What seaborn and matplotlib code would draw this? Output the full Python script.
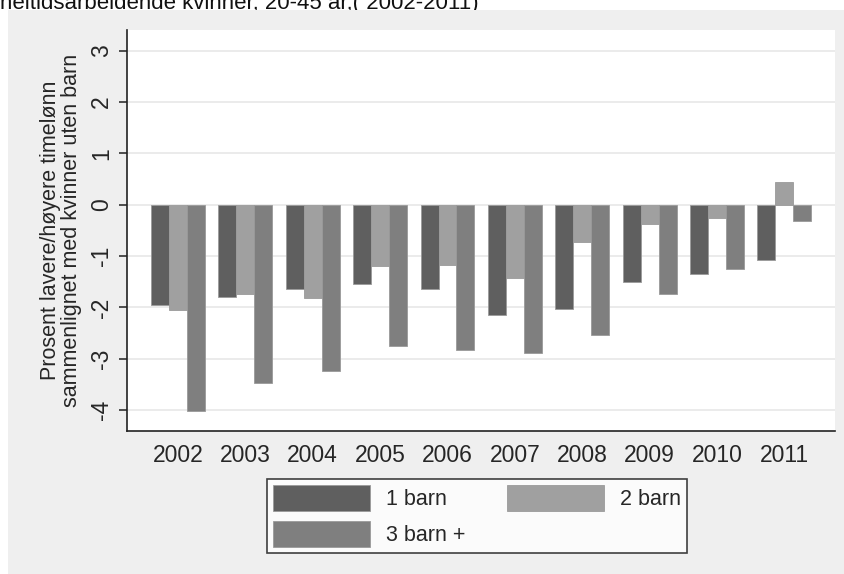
import matplotlib
matplotlib.use("Agg")
import matplotlib.pyplot as plt
import seaborn as sns
import pandas as pd
from matplotlib.patches import Rectangle, Patch

years = ["2002", "2003", "2004", "2005", "2006", "2007", "2008", "2009", "2010", "2011"]
series_names = ["1 barn", "2 barn", "3 barn +"]
one_child = [-1.95, -1.79, -1.65, -1.54, -1.64, -2.15, -2.04, -1.50, -1.35, -1.07]
two_children = [-2.06, -1.745, -1.82, -1.20, -1.18, -1.43, -0.72, -0.38, -0.25, 0.45]
three_plus = [-4.02, -3.48, -3.23, -2.75, -2.82, -2.88, -2.53, -1.74, -1.26, -0.32]
y_ticks = [-4, -3, -2, -1, 0, 1, 2, 3]
title_text = "heltidsarbeidende kvinner, 20-45 år,( 2002-2011)"
y_label = "Prosent lavere/høyere timelønn\nsammenlignet med kvinner uten barn"

colors = ["#5f5f5f", "#a0a0a0", "#7f7f7f"]

df = pd.DataFrame({
    "year": years * 3,
    "series": [series_names[0]] * 10 + [series_names[1]] * 10 + [series_names[2]] * 10,
    "value": one_child + two_children + three_plus,
})

sns.set_style("white")
plt.rcParams["font.family"] = ["Liberation Sans", "DejaVu Sans"]

W, H = 844, 574
fig = plt.figure(figsize=(W / 100, H / 100), dpi=100, facecolor="white")

# gray background region (graph region)
bg = Rectangle((8 / W, 0), 1 - 8 / W, (H - 10) / H, transform=fig.transFigure,
               facecolor="#efefef", edgecolor="none", zorder=-5)
fig.patches.append(bg)
# partially visible title (cut off at top, as in the reference)
fig.text(0 / W, 1 - 9.5 / H, title_text, fontsize=16, ha="left", va="baseline",
         color="#111111", zorder=-10)

ax = fig.add_axes([127 / W, 1 - 430.7 / H, (835 - 127) / W, (430.7 - 30) / H])
ax.set_facecolor("white")

sns.barplot(data=df, x="year", y="value", hue="series", order=years,
            hue_order=series_names, palette=colors, saturation=1, width=0.8,
            errorbar=None, ax=ax, edgecolor="#9a9a9a", linewidth=0.6, legend=False)

ax.set_xlim(-0.757, 9.752)
ax.set_ylim(-4.4, 3.4)
ax.set_yticks(y_ticks)
ax.set_yticklabels([str(t) for t in y_ticks], rotation=90, va="center")
ax.grid(axis="y", color="#e8e8e8", linewidth=1.2)
ax.set_axisbelow(True)

for s in ["top", "right"]:
    ax.spines[s].set_visible(False)
for s in ["left", "bottom"]:
    ax.spines[s].set_color("#222222")
    ax.spines[s].set_linewidth(1.2)

ax.tick_params(axis="y", which="both", left=True, length=6, width=1.1,
               color="#222222", labelsize=16.5, pad=4)
ax.tick_params(axis="x", which="both", bottom=False, labelsize=16.5, pad=6)
ax.set_xlabel("")
ax.set_ylabel(y_label, fontsize=15.5, linespacing=1.0, labelpad=6)

# legend (row-wise: 1 barn, 2 barn / 3 barn +)
leg_order = [0, 2, 1]
handles = [Patch(facecolor=colors[i], edgecolor="#9a9a9a", linewidth=0.6) for i in leg_order]
labels = [series_names[i] for i in leg_order]
leg = fig.legend(handles, labels, loc="upper left",
                 bbox_to_anchor=(267 / W, 1 - 479 / H), ncol=2, fontsize=15.5,
                 frameon=True, fancybox=False, edgecolor="#111111",
                 handlelength=4.5, handleheight=1.5, handletextpad=0.75,
                 columnspacing=1.95, labelspacing=0.45, borderpad=0.28,
                 borderaxespad=0)
leg.get_frame().set_linewidth(1.2)
leg.get_frame().set_facecolor("white")

fig.savefig("out.png", dpi=100, facecolor=fig.get_facecolor())
